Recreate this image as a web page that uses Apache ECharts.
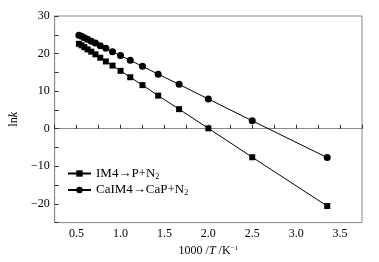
<!DOCTYPE html>
<html>
<head>
<meta charset="utf-8">
<script src="https://cdn.jsdelivr.net/npm/echarts@6/dist/echarts.min.js"></script>
<style>
html, body { margin: 0; padding: 0; background: #fff; }
#chart { width: 379px; height: 262px; }
</style>
</head>
<body>
<div id="chart"></div>
<script>
// 1000/T (K^-1), T = 1900 ... 400 K and 298.15 K
var invT = [0.526, 0.556, 0.588, 0.625, 0.667, 0.714, 0.769, 0.833, 0.909, 1.0, 1.111, 1.25, 1.429, 1.667, 2.0, 2.5, 3.354];
// lnk
var lnkIM4 = [22.6, 22.2, 21.7, 21.1, 20.5, 19.8, 18.9, 17.9, 16.8, 15.4, 13.7, 11.6, 8.8, 5.2, 0.1, -7.6, -20.6];
var lnkCaIM4 = [24.9, 24.6, 24.2, 23.8, 23.3, 22.8, 22.1, 21.4, 20.5, 19.5, 18.2, 16.6, 14.5, 11.8, 7.9, 2.1, -7.7];
var seriesNames = ['IM4→P+N2', 'CaIM4→CaP+N2'];

function pairs(xs, ys) {
    var out = [];
    for (var i = 0; i < xs.length; i++) out.push([xs[i], ys[i]]);
    return out;
}

var font = '"Liberation Serif", "Times New Roman", serif';
var grey = '#8a8a8a';

var myChart = echarts.init(document.getElementById('chart'));
var option = {
    backgroundColor: '#fff',
    animation: false,
    textStyle: { fontFamily: font },
    grid: {
        left: 47, top: 16, right: 17, bottom: 36,
        show: true, borderColor: grey, borderWidth: 1
    },
    legend: {
        orient: 'vertical',
        left: 67, top: 167, padding: 0,
        itemWidth: 23, itemHeight: 8, itemGap: 3,
        data: seriesNames,
        formatter: function (name) {
            return '{a|' + name.slice(0, -1) + '}{s|2}';
        },
        textStyle: {
            color: '#000',
            rich: {
                a: { fontFamily: font, fontSize: 13, color: '#000' },
                s: { fontFamily: font, fontSize: 8, color: '#000', verticalAlign: 'bottom', padding: [6, 0, 0, 0] }
            }
        }
    },
    xAxis: {
        type: 'value',
        min: 0.25, max: 3.75, interval: 0.25,
        name: '{a|1000 /}{i|T}{a| /K}{s|−1}',
        nameLocation: 'middle', nameGap: 18,
        nameTextStyle: {
            rich: {
                a: { fontFamily: font, fontSize: 12, color: '#000' },
                i: { fontFamily: font, fontSize: 12, fontStyle: 'italic', color: '#000' },
                s: { fontFamily: font, fontSize: 7, color: '#000', verticalAlign: 'top', padding: [0, 0, 6, 0] }
            }
        },
        axisLine: { lineStyle: { color: grey } },
        axisTick: { inside: true, length: 4, lineStyle: { color: '#333' } },
        splitLine: { show: false },
        axisLabel: {
            color: '#000', fontSize: 12, fontFamily: font, margin: 5,
            formatter: function (v) {
                return Math.abs(v * 2 - Math.round(v * 2)) < 1e-6 ? v.toFixed(1) : '';
            }
        }
    },
    yAxis: {
        type: 'value',
        min: -25, max: 30, interval: 5,
        name: '{a|ln}{i|k}',
        nameLocation: 'middle', nameGap: 27, nameRotate: 90,
        nameTextStyle: {
            rich: {
                a: { fontFamily: font, fontSize: 12, color: '#000' },
                i: { fontFamily: font, fontSize: 12, fontStyle: 'italic', color: '#000' }
            }
        },
        axisLine: { show: true, lineStyle: { color: grey } },
        axisTick: { show: true, inside: true, length: 4, lineStyle: { color: '#333' } },
        splitLine: { show: false },
        axisLabel: {
            color: '#000', fontSize: 12, fontFamily: font, margin: 5,
            formatter: function (v) {
                return v % 10 === 0 ? String(v).replace('-', '−') : '';
            }
        }
    },
    series: [{
        name: seriesNames[0],
        type: 'line',
        data: pairs(invT, lnkIM4),
        symbol: 'rect', symbolSize: 6,
        lineStyle: { color: '#000', width: 1 },
        itemStyle: { color: '#000' }
    }, {
        name: seriesNames[1],
        type: 'line',
        data: pairs(invT, lnkCaIM4),
        symbol: 'circle', symbolSize: 7,
        lineStyle: { color: '#000', width: 1 },
        itemStyle: { color: '#000' }
    }]
};
myChart.setOption(option);
</script>
</body>
</html>
